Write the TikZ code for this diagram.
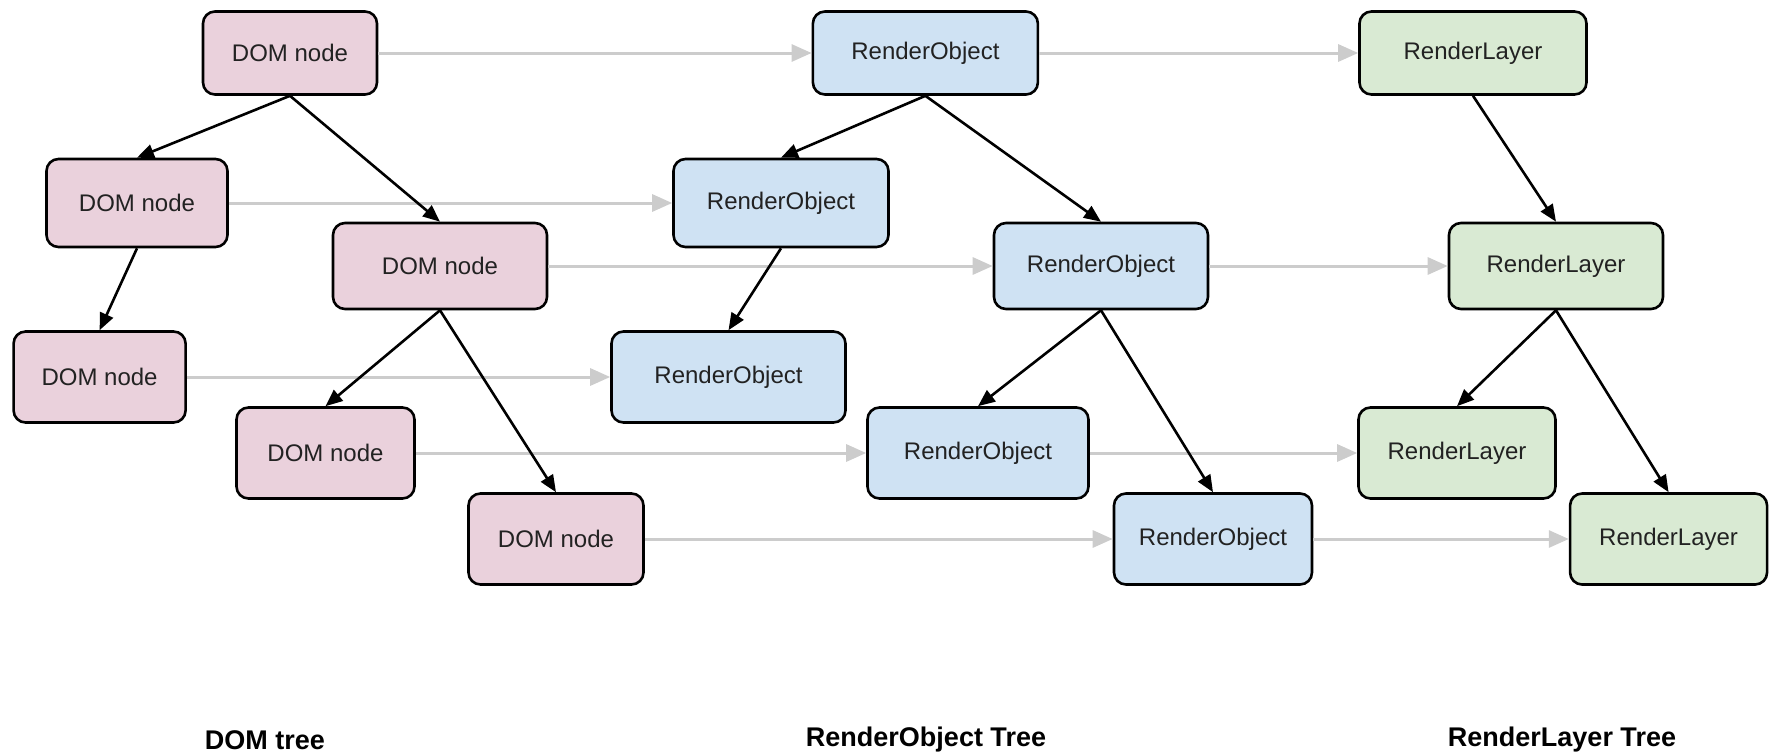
\documentclass[tikz,border=0pt]{standalone}
\usepackage{fontspec}
\setmainfont{Liberation Sans}
\usetikzlibrary{arrows.meta}
\definecolor{dompink}{HTML}{EAD1DC}
\definecolor{roblue}{HTML}{CFE2F3}
\definecolor{rlgreen}{HTML}{D9EAD3}
\definecolor{linkgray}{HTML}{CCCCCC}
\definecolor{inkdark}{HTML}{222222}

\begin{document}
\begin{tikzpicture}[x=1pt,y=-1pt,
  box/.style={draw=black, line width=2.6pt, rounded corners=12pt, inner sep=0pt,
    text=inkdark, font=\fontsize{24}{28}\selectfont},
  dom/.style={box, fill=dompink},
  robj/.style={box, fill=roblue},
  rlay/.style={box, fill=rlgreen},
  child/.style={draw=black, line width=2.6pt, -{Triangle[length=17pt,width=14pt]}},
  link/.style={draw=linkgray, line width=3pt, -{Triangle[length=20pt,width=17pt]}},
  title/.style={text=black, font=\bfseries\fontsize{27}{32}\selectfont}]
\useasboundingbox (0,0) rectangle (1775,755);

% DOM tree
\node[dom, minimum width=174pt, minimum height=83pt] (d1) at (290,53)  {DOM node};
\node[dom, minimum width=181pt, minimum height=88pt] (d2) at (137,203) {DOM node};
\node[dom, minimum width=214pt, minimum height=86pt] (d3) at (440,266) {DOM node};
\node[dom, minimum width=172pt, minimum height=91pt] (d4) at (99.6,377) {DOM node};
\node[dom, minimum width=178pt, minimum height=91pt] (d5) at (325.5,453) {DOM node};
\node[dom, minimum width=175pt, minimum height=91pt] (d6) at (556,539) {DOM node};

% RenderObject tree
\node[robj, minimum width=225pt, minimum height=83pt] (r1) at (925.4,53)  {RenderObject};
\node[robj, minimum width=215pt, minimum height=88pt] (r2) at (781,203)   {RenderObject};
\node[robj, minimum width=214pt, minimum height=86pt] (r3) at (1101,266)  {RenderObject};
\node[robj, minimum width=234pt, minimum height=91pt] (r4) at (728.5,377) {RenderObject};
\node[robj, minimum width=221pt, minimum height=91pt] (r5) at (978,453)   {RenderObject};
\node[robj, minimum width=198pt, minimum height=91pt] (r6) at (1213,539)  {RenderObject};

% RenderLayer tree
\node[rlay, minimum width=227pt, minimum height=83pt] (l1) at (1473,53)   {RenderLayer};
\node[rlay, minimum width=214pt, minimum height=86pt] (l2) at (1556,266)  {RenderLayer};
\node[rlay, minimum width=197pt, minimum height=91pt] (l3) at (1457,453)  {RenderLayer};
\node[rlay, minimum width=197pt, minimum height=91pt] (l4) at (1668.6,539) {RenderLayer};

% correspondence links between the trees
\draw[link] (d1.east) -- (r1.west);
\draw[link] (d2.east) -- (r2.west);
\draw[link] (d3.east) -- (r3.west);
\draw[link] (d4.east) -- (r4.west);
\draw[link] (d5.east) -- (r5.west);
\draw[link] (d6.east) -- (r6.west);
\draw[link] (r1.east) -- (l1.west);
\draw[link] (r3.east) -- (l2.west);
\draw[link] (r5.east) -- (l3.west);
\draw[link] (r6.east) -- (l4.west);

% parent-child edges
\draw[child] (d1.south) -- (d2.north);
\draw[child] (d1.south) -- (d3.north);
\draw[child] (d2.south) -- (d4.north);
\draw[child] (d3.south) -- (d5.north);
\draw[child] (d3.south) -- (d6.north);
\draw[child] (r1.south) -- (r2.north);
\draw[child] (r1.south) -- (r3.north);
\draw[child] (r2.south) -- (r4.north);
\draw[child] (r3.south) -- (r5.north);
\draw[child] (r3.south) -- (r6.north);
\draw[child] (l1.south) -- (l2.north);
\draw[child] (l2.south) -- (l3.north);
\draw[child] (l2.south) -- (l4.north);

% captions
\node[title] (tdom) at (265,740) {DOM tree};
\node[title] (tro)  at (926,740) {RenderObject Tree};
\node[title] (trl)  at (1562,740) {RenderLayer Tree};
\end{tikzpicture}
\end{document}
